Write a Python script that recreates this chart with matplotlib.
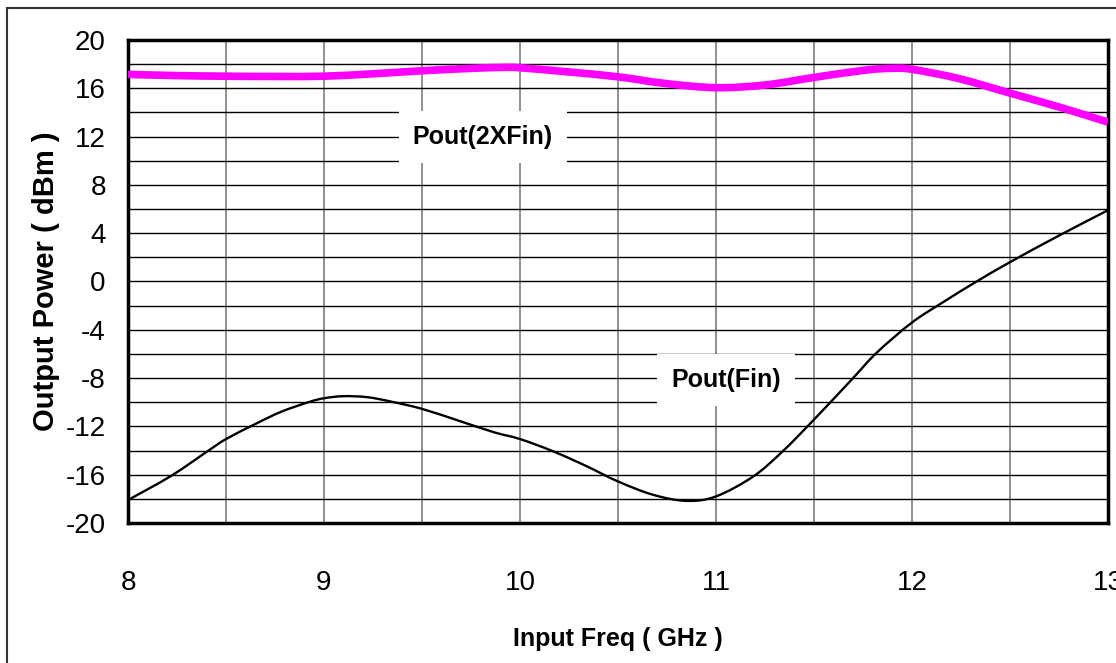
import matplotlib
matplotlib.use('Agg')
import matplotlib.pyplot as plt
from matplotlib.patches import Rectangle, PathPatch
from matplotlib.path import Path

plt.rcParams['font.family'] = ['Liberation Sans', 'DejaVu Sans']
plt.rcParams['axes.unicode_minus'] = False

# Pout(2XFin)
freq_2x = [8.0, 8.25, 8.5, 8.75, 9.0, 9.25, 9.5, 9.75, 9.91, 10.0, 10.25, 10.5,
           10.74, 11.0, 11.25, 11.5, 11.76, 11.89, 12.0, 12.24, 12.5, 12.75, 13.0]
pout_2x = [17.15, 17.05, 17.0, 16.98, 17.0, 17.2, 17.45, 17.65, 17.73, 17.7, 17.35, 16.95,
           16.4, 16.05, 16.27, 16.9, 17.5, 17.65, 17.57, 16.8, 15.6, 14.45, 13.2]

# Pout(Fin)
freq_1x = [8.0, 8.22, 8.42, 8.5, 8.65, 8.78, 8.92, 9.0, 9.1, 9.22, 9.34, 9.5, 9.7, 9.87,
           10.0, 10.17, 10.34, 10.5, 10.68, 10.85, 11.0, 11.19, 11.34, 11.5, 11.7, 11.82,
           12.0, 12.17, 12.33, 12.5, 12.75, 13.0]
pout_1x = [-18.1, -16.1, -13.9, -13.05, -11.8, -10.8, -10.0, -9.67, -9.5, -9.58, -9.94, -10.55,
           -11.6, -12.5, -13.05, -14.07, -15.3, -16.56, -17.67, -18.17, -17.8, -16.15, -14.07,
           -11.44, -7.99, -5.9, -3.4, -1.6, 0.0, 1.6, 3.8, 5.9]

xticks = [8, 9, 10, 11, 12, 13]
yticks = [-20, -16, -12, -8, -4, 0, 4, 8, 12, 16, 20]


def smooth_path(xs, ys, t=1 / 6):
    # Excel-style smoothed line: cubic Bezier segments with Catmull-Rom tangents
    verts = [(xs[0], ys[0])]
    codes = [Path.MOVETO]
    n = len(xs)
    for i in range(n - 1):
        x0, y0 = xs[max(i - 1, 0)], ys[max(i - 1, 0)]
        x1, y1 = xs[i], ys[i]
        x2, y2 = xs[i + 1], ys[i + 1]
        x3, y3 = xs[min(i + 2, n - 1)], ys[min(i + 2, n - 1)]
        verts += [(x1 + (x2 - x0) * t, y1 + (y2 - y0) * t),
                  (x2 - (x3 - x1) * t, y2 - (y3 - y1) * t),
                  (x2, y2)]
        codes += [Path.CURVE4] * 3
    return Path(verts, codes)


fig = plt.figure(figsize=(11.16, 6.63), dpi=100)
ax = fig.add_axes([0.1147, 0.2112, 0.8781, 0.7285])

ax.add_patch(PathPatch(smooth_path(freq_2x, pout_2x), fill=False, edgecolor='#ff00ff',
                       lw=5.5, capstyle='butt', zorder=3))
ax.add_patch(PathPatch(smooth_path(freq_1x, pout_1x), fill=False, edgecolor='black',
                       lw=1.7, zorder=3))

ax.set_xlim(8, 13)
ax.set_ylim(-20, 20)
ax.set_xticks(xticks)
ax.set_yticks(yticks)
ax.set_xticks([8.5 + i for i in range(5)], minor=True)
ax.set_yticks(list(range(-18, 20, 4)), minor=True)
ax.tick_params(which='both', length=0, labelsize=20)
ax.tick_params(axis='x', pad=34)
ax.tick_params(axis='y', pad=16)

ax.grid(True, which='both', axis='x', color='#7f7f7f', lw=1.2)
ax.grid(True, which='both', axis='y', color='black', lw=1.0)
ax.set_axisbelow(True)
for s in ax.spines.values():
    s.set_linewidth(2.5)

ax.set_xlabel('Input Freq ( GHz )', fontsize=18, fontweight='bold', labelpad=22)
ax.set_ylabel('Output Power ( dBm )', fontsize=21, fontweight='bold', labelpad=4)

box = dict(facecolor='white', edgecolor='none', pad=10)
ax.text(9.81, 12.0, 'Pout(2XFin)', fontsize=18, fontweight='bold', ha='center', va='center',
        bbox=box, zorder=4)
ax.text(11.05, -8.2, 'Pout(Fin)', fontsize=18, fontweight='bold', ha='center', va='center',
        bbox=box, zorder=4)

# outer frame, running off the right and bottom edges
fig.patches.append(Rectangle((7 / 1116, -0.1), 1.1, 1.1 - 8 / 663, transform=fig.transFigure,
                             fill=False, edgecolor='#333333', lw=1.5))

fig.savefig('out.png', dpi=100)
